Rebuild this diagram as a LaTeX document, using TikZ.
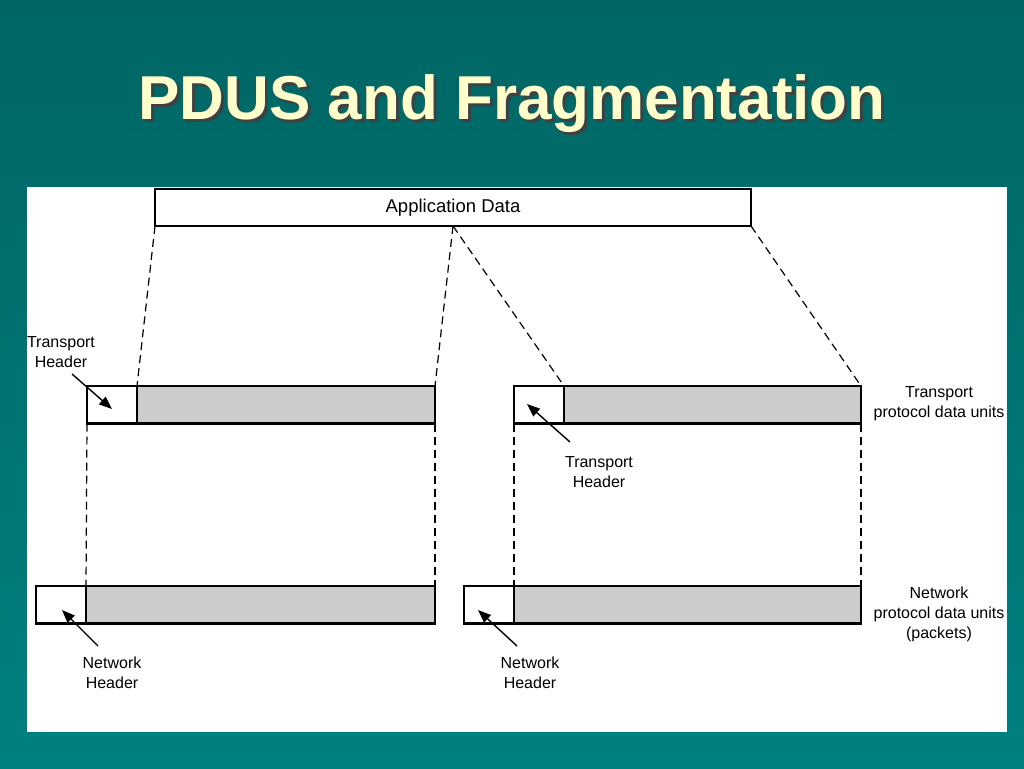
\documentclass[tikz,border=0pt]{standalone}
\usepackage{fontspec}
\setmainfont{Liberation Sans}
\usetikzlibrary{arrows.meta,positioning}
\definecolor{slidetop}{HTML}{006664}
\definecolor{slidebot}{HTML}{008080}
\definecolor{titlefg}{HTML}{FFFFCC}
\definecolor{pdugray}{HTML}{CCCCCC}
\tikzset{
  pdu/.style={draw=black, line width=2.4pt, fill=pdugray, minimum height=37.5pt, inner sep=0pt, outer sep=0pt},
  hdr/.style={pdu, fill=white, minimum width=50pt, anchor=north west},
  lbl/.style={align=center, font=\fontsize{16}{20}\selectfont},
  cut/.style={line width=1.2pt, dash pattern=on 8pt off 5pt},
  ptr/.style={line width=1.4pt, -{Triangle[length=13pt,width=10pt]}},
  headline/.style={anchor=base, font=\fontsize{62}{64}\selectfont\bfseries}
}

\begin{document}
\begin{tikzpicture}[x=1pt, y=-1pt]
	%%%%% START %%%%%
	
	\shade[top color=slidetop, bottom color=slidebot] (0, 0) rectangle (1024, 768);
	\useasboundingbox (0, 0) rectangle (1024, 768);
	
	\node[headline, text=black!75] (titleshd) at (515, 122) {PDUS and Fragmentation};
	\node[headline, text=titlefg] (title) at (512, 119) {PDUS and Fragmentation};
	
	\fill[white] (27, 187) rectangle (1007, 732);
	
	\node[draw, line width=2pt, fill=white, minimum width=596pt, minimum height=37pt, inner sep=0pt, outer sep=0pt, anchor=north west, font=\fontsize{18.5}{20}\selectfont] (app) at (155, 189) {Application Data};
	
	% transport pdus
	\node[hdr] (th1) at (87, 386) {};
	\node[pdu, right=0pt of th1, minimum width=298pt] (tg1) {};
	\node[hdr] (th2) at (514, 386) {};
	\node[pdu, right=0pt of th2, minimum width=297pt] (tg2) {};
	
	% network pdus
	\node[hdr] (nh1) at (36, 586) {};
	\node[pdu, right=0pt of nh1, minimum width=349pt] (ng1) {};
	\node[hdr] (nh2) at (464, 586) {};
	\node[pdu, right=0pt of nh2, minimum width=347pt] (ng2) {};
	
	\draw[cut] (app.south west) -- (tg1.north west);
	\draw[cut] (app.south) -- (tg1.north east);
	\draw[cut] (app.south) -- (tg2.north west);
	\draw[cut] (app.south east) -- (tg2.north east);
	
	\draw[cut] (th1.south west) -- (ng1.north west);
	\draw[cut] (tg1.south east) -- (ng1.north east);
	\draw[cut] (th2.south west) -- (ng2.north west);
	\draw[cut] (tg2.south east) -- (ng2.north east);
	
	\node[lbl] (thl1) at (61, 352) {Transport\\Header};
	\node[lbl] (thl2) at (599, 472) {Transport\\Header};
	\node[lbl] (tpdu) at (939, 404) {Transport\\protocol data units};
	\node[lbl] (npdu) at (939, 614) {Network\\protocol data units\\(packets)};
	\node[lbl] (nhl1) at (112, 673) {Network\\Header};
	\node[lbl] (nhl2) at (530, 673) {Network\\Header};
	
	\coordinate (thl1t) at (72, 374);   \coordinate (th1p) at (112, 409);
	\coordinate (thl2t) at (570, 442);  \coordinate (th2p) at (527, 404);
	\coordinate (nhl1t) at (98, 646);   \coordinate (nh1p) at (62, 610);
	\coordinate (nhl2t) at (517, 646);  \coordinate (nh2p) at (478, 610);
	
	\draw[ptr] (thl1t) -- (th1p);
	\draw[ptr] (thl2t) -- (th2p);
	\draw[ptr] (nhl1t) -- (nh1p);
	\draw[ptr] (nhl2t) -- (nh2p);
	
	%%%%% END %%%%%
\end{tikzpicture}
\end{document}
